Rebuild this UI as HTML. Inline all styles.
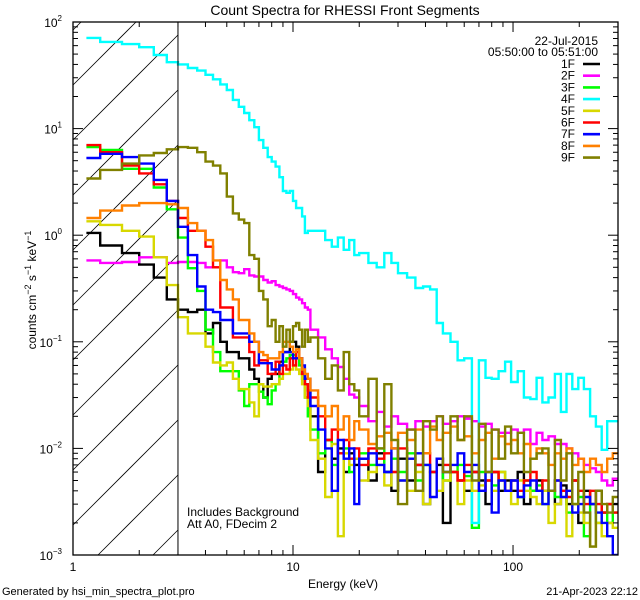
<!DOCTYPE html>
<html><head><meta charset="utf-8"><style>
html,body{margin:0;padding:0;width:640px;height:600px;overflow:hidden;background:#fff;}
svg{display:block;position:absolute;left:0;top:0;font-family:"Liberation Sans",sans-serif;}
</style></head><body>
<svg id="chart" width="640" height="600" viewBox="0 0 640 600" xmlns="http://www.w3.org/2000/svg" overflow="hidden">
<rect width="640" height="600" fill="#fff"/>
<text x="345" y="15" font-size="14" text-anchor="middle">Count Spectra for RHESSI Front Segments</text>
<defs><clipPath id="plotclip"><rect x="73" y="22" width="545" height="533"/></clipPath></defs>
<g id="hatch"></g>
<g id="series" clip-path="url(#plotclip)"></g>
<g id="axes"></g>
<g id="legend"></g>
<text transform="translate(36,290) rotate(-90)" font-size="12" text-anchor="middle">counts cm<tspan dy="-5" font-size="9">−2</tspan><tspan dy="5"> s</tspan><tspan dy="-5" font-size="9">−1</tspan><tspan dy="5"> keV</tspan><tspan dy="-5" font-size="9">−1</tspan></text>
<text x="343" y="588" font-size="12" text-anchor="middle">Energy (keV)</text>
<text x="187" y="516" font-size="12">Includes Background</text>
<text x="187" y="528" font-size="12">Att A0, FDecim 2</text>
<text x="2" y="595" font-size="11">Generated by hsi_min_spectra_plot.pro</text>
<text x="638" y="595" font-size="11" text-anchor="end">21-Apr-2023 22:12</text>
<text x="598" y="45" font-size="12" text-anchor="end">22-Jul-2015</text>
<text x="598" y="56" font-size="12" text-anchor="end">05:50:00 to 05:51:00</text>
</svg>
<script>
const energyEdges=[1.15,1.33,1.67,2,2.33,2.67,3,3.33,3.67,4,4.33,4.67,5,5.33,5.67,6,6.33,6.67,7,7.33,7.67,8,8.33,8.67,9,9.33,9.67,10,10.33,10.67,11,11.33,11.67,12,13,14,15,16,17,18,19,20,22,24,26,28,30,33,36,39,42,45,48,52,56,60,65,70,75,80,86,92,98,105,112,120,128,136,145,155,165,175,186,198,210,224,238,253,268,284,300];
const s1F=[1.05,.8,.68,.53,.4,.25,.2,.19,.2,.12,.15,.1,.08,.08,.07,.07,.055,.045,.04,.03,.045,.05,.05,.065,.08,.08,.1,.1,.09,.07,.05,.04,.035,
0.02,0.006,0.012,0.008,0.01,0.006,0.009,0.007,0.008,0.005,0.009,0.006,0.004,0.008,0.005,0.007,0.003,0.006,0.007,0.002,0.006,0.005,0.004,0.006,0.005,0.003,0.006,0.004,0.005,0.004,0.006,0.003,0.004,0.005,0.004,0.004,0.003,0.0045,0.003,0.005,0.002,0.004,0.003,0.004,0.0025,0.003,0.003,0.002];
const s2F=[.58,.55,.56,.62,.62,.55,.56,.56,.55,.5,.5,.58,.5,.45,.44,.48,.42,.41,.41,.38,.36,.37,.34,.33,.32,.31,.3,.28,.26,.25,.23,.21,.2,
0.13,0.11,0.085,0.07,0.058,0.045,0.032,0.03,0.025,0.018,0.022,0.016,0.02,0.017,0.015,0.018,0.016,0.018,0.02,0.017,0.018,0.02,0.019,0.018,0.016,0.017,0.015,0.014,0.014,0.015,0.014,0.015,0.011,0.014,0.012,0.013,0.011,0.011,0.01,0.009,0.008,0.007,0.0065,0.006,0.005,0.0045,0.0052];
const s3F=[6.7,6.3,4.2,4.2,2.8,1.75,.95,.49,.3,.13,.08,.053,.053,.053,.035,.025,.04,.04,.034,.03,.026,.035,.04,.06,.065,.07,.075,.075,.07,.06,.045,.03,.02,
0.015,0.009,0.012,0.007,0.009,0.01,0.006,0.008,0.009,0.007,0.01,0.006,0.008,0.006,0.009,0.005,0.007,0.006,0.008,0.005,0.006,0.007,0.0055,0.0018,0.006,0.005,0.0045,0.006,0.004,0.005,0.0035,0.005,0.004,0.0045,0.003,0.004,0.0035,0.004,0.0025,0.003,0.0035,0.0015,0.003,0.002,0.0025,0.002,0.0025];
const s4F=[71,65,62,58,49,42,40,37,35,32,29,26,23,18.6,16,14,12,10.3,7.8,6.6,5.4,4.9,4.4,3.5,2.6,2.5,2.6,2.1,1.8,1.8,1.5,1.05,1.1,
1.1,1.1,0.9,0.78,0.95,0.73,0.9,0.65,0.68,0.55,0.5,0.68,0.55,0.44,0.4,0.32,0.33,0.31,0.15,0.12,0.1,0.067,0.07,0.002,0.067,0.046,0.045,0.053,0.065,0.042,0.053,0.03,0.029,0.046,0.027,0.03,0.05,0.022,0.05,0.036,0.046,0.036,0.02,0.016,0.0097,0.018,0.018];
const s5F=[1.35,1.25,1.1,.97,.62,.34,.17,.12,.12,.09,.064,.06,.064,.045,.036,.036,.027,.02,.04,.038,.038,.04,.04,.045,.05,.05,.055,.06,.055,.05,.04,.03,.025,
0.012,0.008,0.0035,0.011,0.0015,0.009,0.007,0.008,0.005,0.006,0.007,0.0045,0.006,0.005,0.004,0.006,0.003,0.006,0.004,0.005,0.006,0.003,0.005,0.004,0.0045,0.005,0.004,0.006,0.004,0.003,0.005,0.004,0.0035,0.003,0.004,0.002,0.003,0.0035,0.0015,0.003,0.0025,0.002,0.0012,0.002,0.0015,0.002,0.0018];
const s6F=[7.0,6.0,4.5,3.8,3.0,2.1,1.45,1.1,1.1,.78,.5,.21,.21,.11,.11,.11,.08,.06,.067,.067,.05,.05,.065,.05,.06,.055,.07,.06,.08,.07,.05,.04,.03,
0.03,0.02,0.012,0.015,0.009,0.012,0.008,0.01,0.007,0.01,0.008,0.009,0.006,0.01,0.008,0.007,0.009,0.006,0.008,0.007,0.006,0.005,0.007,0.006,0.004,0.005,0.006,0.005,0.004,0.005,0.004,0.005,0.006,0.004,0.005,0.004,0.005,0.004,0.0035,0.005,0.004,0.003,0.004,0.003,0.0025,0.003,0.0025];
const s7F=[5.3,5.8,5.4,4.7,3.3,2.1,1.2,.65,.33,.2,.19,.16,.16,.12,.12,.12,.1,.1,.063,.063,.063,.055,.055,.06,.08,.08,.08,.07,.07,.07,.06,.045,.045,
0.025,0.015,0.01,0.004,0.012,0.008,0.01,0.003,0.008,0.009,0.007,0.006,0.01,0.005,0.008,0.009,0.007,0.0035,0.008,0.006,0.007,0.009,0.006,0.007,0.004,0.006,0.0025,0.005,0.004,0.005,0.0035,0.0045,0.005,0.004,0.003,0.004,0.005,0.0035,0.004,0.0025,0.003,0.0035,0.003,0.0025,0.002,0.0015,0.001];
const s8F=[1.45,1.7,1.9,2.0,2.0,1.95,1.8,1.3,1.1,.9,.58,.38,.31,.25,.16,.16,.12,.1,.08,.075,.07,.07,.07,.08,.1,.1,.09,.08,.085,.07,.055,.05,.045,
0.035,0.025,0.02,0.025,0.015,0.02,0.012,0.018,0.015,0.011,0.013,0.014,0.01,0.014,0.012,0.015,0.009,0.016,0.012,0.014,0.016,0.012,0.013,0.009,0.012,0.014,0.008,0.013,0.011,0.012,0.009,0.011,0.008,0.01,0.009,0.007,0.009,0.008,0.01,0.007,0.008,0.006,0.008,0.007,0.006,0.008,0.009];
const s9F=[3.4,4.1,4.7,5.6,5.9,6.4,6.7,6.6,6.0,4.9,4.5,3.8,2.3,1.6,1.4,1.3,.65,.6,.3,.25,.14,.16,.1,.14,.09,.13,.1,.14,.15,.13,.09,.13,.1,
0.11,0.07,0.045,0.06,0.035,0.08,0.04,0.035,0.02,0.045,0.01,0.04,0.012,0.003,0.015,0.004,0.018,0.015,0.02,0.006,0.02,0.012,0.02,0.005,0.017,0.006,0.015,0.008,0.016,0.009,0.014,0.006,0.008,0.009,0.01,0.004,0.012,0.005,0.009,0.003,0.006,0.0025,0.0012,0.004,0.003,0.0025,0.0035];
const seriesNames=["1F","2F","3F","4F","5F","6F","7F","8F","9F"];
const seriesColors=["#000000","#ff00ff","#00ff00","#00ffff","#d8d800","#ff0000","#0000ff","#ff8000","#808000"];
const seriesData=[s1F,s2F,s3F,s4F,s5F,s6F,s7F,s8F,s9F];
const xTickLabels=["1","10","100"];
const yTickExps=[2,1,0,-1,-2,-3];

const NS="http://www.w3.org/2000/svg";
const X0=73,X1=618,Y0=22,Y1=555,XMIN=1,XMAX=300,YMIN=-3,YMAX=2;
function xs(e){return X0+(Math.log10(e)-Math.log10(XMIN))/(Math.log10(XMAX)-Math.log10(XMIN))*(X1-X0);}
function ys(v){return Y0+(YMAX-Math.log10(v))/(YMAX-YMIN)*(Y1-Y0);}
function mk(tag,attrs,parent){const el=document.createElementNS(NS,tag);for(const k in attrs)el.setAttribute(k,attrs[k]);parent.appendChild(el);return el;}

const hatch=document.getElementById('hatch');
const HX1=xs(3),HW=HX1-X0;
for(let k=-1;k<12;k++){
  const y=85+k*55;
  let ax=X0,ay=y,bx=X1,by=0;
  bx=X0+HW;by=y-HW;
  if(ay>Y1){ax=X0+(ay-Y1);ay=Y1;}
  if(by<Y0){bx=X0+(y-Y0);by=Y0;}
  if(ax>=bx)continue;
  const l=mk('line',{x1:ax,y1:ay,x2:bx,y2:by,stroke:'#000','stroke-width':0.8},hatch);
  
  
}
const sg=document.getElementById('series');
seriesData.forEach((vals,si)=>{
  const n=Math.min(vals.length,energyEdges.length-1);
  let d='';
  for(let i=0;i<n;i++){
    const y=Math.min(Y1,ys(vals[i])).toFixed(1);
    const xa=xs(energyEdges[i]).toFixed(1),xb=Math.min(X1,xs(energyEdges[i+1])).toFixed(1);
    d+=(i===0?'M':'L')+xa+','+y+'L'+xb+','+y;
  }
  const p=mk('path',{d:d,fill:'none',stroke:seriesColors[si],'stroke-width':2.4,'stroke-linejoin':'miter'},sg);
  
  
});
const ag=document.getElementById('axes');
const frame=mk('rect',{x:X0,y:Y0,width:X1-X0,height:Y1-Y0,fill:'none',stroke:'#000','stroke-width':1.3},ag);


const vline=mk('line',{x1:xs(3),y1:Y0,x2:xs(3),y2:Y1,stroke:'#000','stroke-width':1},ag);


for(let dec=0;dec<3;dec++){
  for(let m=1;m<10;m++){
    const e=m*Math.pow(10,dec);if(e>XMAX)break;
    const x=xs(e),len=m===1?10:5;
    mk('line',{x1:x,y1:Y1,x2:x,y2:Y1-len,stroke:'#000','stroke-width':1},ag);
    mk('line',{x1:x,y1:Y0,x2:x,y2:Y0+len,stroke:'#000','stroke-width':1},ag);
  }
}
xTickLabels.forEach(t=>{
  const tx=mk('text',{x:xs(parseFloat(t)),y:571,'font-size':12,'text-anchor':'middle'},ag);
  tx.textContent=t;
  
  
});
for(let ex=YMIN;ex<YMAX;ex++){
  for(let m=1;m<10;m++){
    const y=ys(m*Math.pow(10,ex)),len=m===1?10:5;
    mk('line',{x1:X0,y1:y,x2:X0+len,y2:y,stroke:'#000','stroke-width':1},ag);
    mk('line',{x1:X1,y1:y,x2:X1-len,y2:y,stroke:'#000','stroke-width':1},ag);
  }
}
yTickExps.forEach(ex=>{
  const y=ys(Math.pow(10,ex));
  const tx=mk('text',{x:62,y:y+5,'font-size':12,'text-anchor':'end'},ag);
  
  
  tx.appendChild(document.createTextNode('10'));
  const ts=mk('tspan',{dy:-6,'font-size':8},tx);
  ts.textContent=String(ex).replace('-','−');
});
const lg=document.getElementById('legend');
seriesNames.forEach((nm,i)=>{
  const y=64+i*11.7;
  const g=mk('g',{},lg);
  
  
  const t=mk('text',{x:575,y:y+4,'font-size':12,'text-anchor':'end'},g);t.textContent=nm;
  mk('line',{x1:583,y1:y,x2:600,y2:y,stroke:seriesColors[i],'stroke-width':2.6},g);
});
</script>
</body></html>
